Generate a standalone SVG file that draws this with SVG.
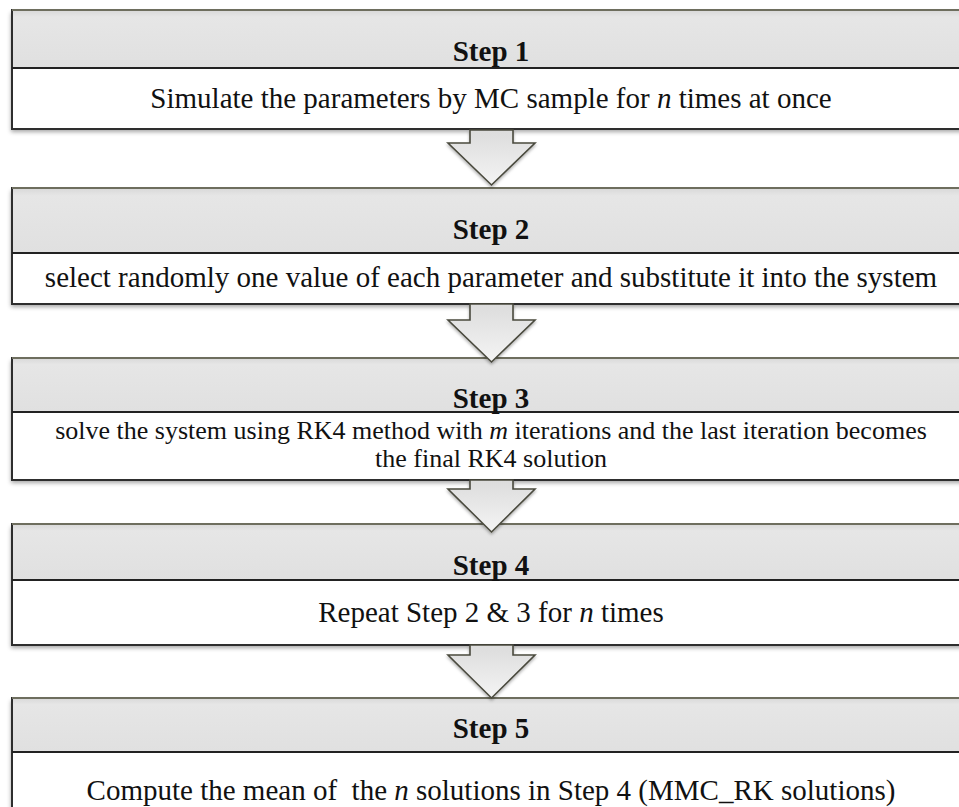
<svg xmlns="http://www.w3.org/2000/svg" width="959" height="807" viewBox="0 0 959 807">
<defs>
<linearGradient id="hdr" x1="0" y1="0" x2="0" y2="1">
<stop offset="0" stop-color="#d8d8d8"/>
<stop offset="0.12" stop-color="#e6e6e6"/>
<stop offset="1" stop-color="#e0e0e0"/>
</linearGradient>
<linearGradient id="arw" x1="0" y1="0" x2="0" y2="1">
<stop offset="0" stop-color="#dcdcdc"/>
<stop offset="1" stop-color="#f4f4f4"/>
</linearGradient>
<filter id="sh" x="-5%" y="-20%" width="110%" height="150%">
<feDropShadow dx="-1" dy="3" stdDeviation="2" flood-color="#000" flood-opacity="0.35"/>
</filter>
<filter id="ash" x="-30%" y="-30%" width="160%" height="160%">
<feDropShadow dx="0" dy="2" stdDeviation="1.5" flood-color="#000" flood-opacity="0.3"/>
</filter>
</defs>
<style>
.hd{fill:url(#hdr);stroke:none}
.bd{fill:#ffffff;stroke:none}
.fr{fill:none;stroke:#2e2e2e;stroke-width:2}
.tp{stroke:#6e6e5e;stroke-width:2}
.dv{stroke:#222;stroke-width:2}
.t{font-family:"Liberation Serif","Times New Roman",serif;fill:#111;text-anchor:middle}
.h{font-size:29px;font-weight:bold}
.b{font-size:29px}
.s{font-size:26px}
.a{fill:url(#arw);stroke:#4a4a3e;stroke-width:1.6;stroke-linejoin:miter}
</style>
<rect width="959" height="807" fill="#fff"/>
<g id="step1">
<g filter="url(#sh)">
<rect class="hd" x="12" y="10" width="960" height="58"/>
<rect class="bd" x="12" y="68" width="960" height="61"/>
</g>
<rect class="fr" x="12" y="10" width="960" height="119"/>
<line class="tp" x1="12" y1="10" x2="972" y2="10"/>
<line class="dv" x1="12" y1="68" x2="972" y2="68"/>
<text class="t h" x="491" y="61">Step 1</text>
<text class="t b" x="491" y="108">Simulate the parameters by MC sample for <tspan font-style="italic">n</tspan> times at once</text>
</g>
<g id="step2">
<g filter="url(#sh)">
<rect class="hd" x="12" y="188" width="960" height="65"/>
<rect class="bd" x="12" y="253" width="960" height="51"/>
</g>
<rect class="fr" x="12" y="188" width="960" height="116"/>
<line class="tp" x1="12" y1="188" x2="972" y2="188"/>
<line class="dv" x1="12" y1="253" x2="972" y2="253"/>
<text class="t h" x="491" y="239">Step 2</text>
<text class="t b" x="491" y="287">select randomly one value of each parameter and substitute it into the system</text>
</g>
<g id="step3">
<g filter="url(#sh)">
<rect class="hd" x="12" y="358" width="960" height="54"/>
<rect class="bd" x="12" y="412" width="960" height="68"/>
</g>
<rect class="fr" x="12" y="358" width="960" height="122"/>
<line class="tp" x1="12" y1="358" x2="972" y2="358"/>
<line class="dv" x1="12" y1="412" x2="972" y2="412"/>
<text class="t h" x="491" y="408">Step 3</text>
<text class="t s" x="491" y="439">solve the system using RK4 method with <tspan font-style="italic">m</tspan> iterations and the last iteration becomes</text>
<text class="t s" x="491" y="467">the final RK4 solution</text>
</g>
<g id="step4">
<g filter="url(#sh)">
<rect class="hd" x="12" y="524" width="960" height="56"/>
<rect class="bd" x="12" y="580" width="960" height="65"/>
</g>
<rect class="fr" x="12" y="524" width="960" height="121"/>
<line class="tp" x1="12" y1="524" x2="972" y2="524"/>
<line class="dv" x1="12" y1="580" x2="972" y2="580"/>
<text class="t h" x="491" y="575">Step 4</text>
<text class="t b" x="491" y="622">Repeat Step 2 &amp; 3 for <tspan font-style="italic">n</tspan> times</text>
</g>
<g id="step5">
<g filter="url(#sh)">
<rect class="hd" x="12" y="698" width="960" height="54"/>
<rect class="bd" x="12" y="752" width="960" height="70"/>
</g>
<rect class="fr" x="12" y="698" width="960" height="124"/>
<line class="tp" x1="12" y1="698" x2="972" y2="698"/>
<line class="dv" x1="12" y1="752" x2="972" y2="752"/>
<text class="t h" x="491" y="738">Step 5</text>
<text class="t b" x="491" y="800" xml:space="preserve">Compute the mean of  the <tspan font-style="italic">n</tspan> solutions in Step 4 (MMC_RK solutions)</text>
</g>
<g id="connectors" filter="url(#ash)">
<path class="a" d="M470,130 L513,130 L513,143 L535,143 L491.5,185 L448,143 L470,143 Z"/>
<path class="a" d="M470,304 L513,304 L513,320 L535,320 L491.5,362 L448,320 L470,320 Z"/>
<path class="a" d="M470,480 L513,480 L513,489 L535,489 L491.5,532 L448,489 L470,489 Z"/>
<path class="a" d="M470,645 L513,645 L513,655 L535,655 L491.5,698 L448,655 L470,655 Z"/>
</g>
</svg>
